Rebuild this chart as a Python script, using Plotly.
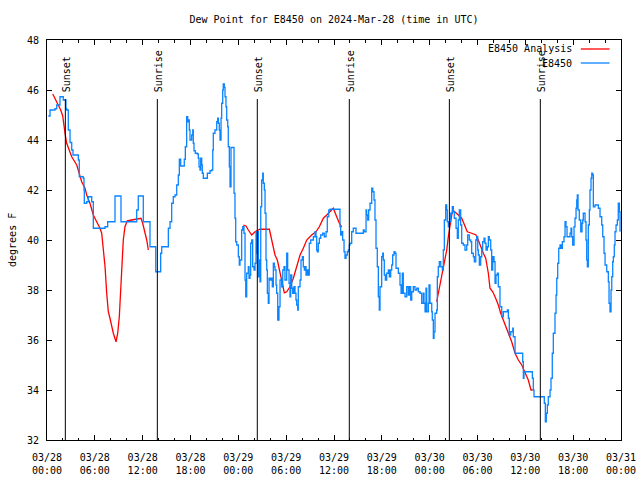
import pandas as pd
import plotly.graph_objects as go

BASE = pd.Timestamp("2024-03-28 00:00")

# Observed dew point (E8450), hours since 2024-03-28 00:00 UTC
obs_hours = [0.16, 0.38, 1.0, 1.22, 1.63, 1.97, 2.04, 2.38, 2.47, 2.67, 2.89, 3.1, 3.26, 3.64, 3.93, 4.05,
             4.55, 4.64, 4.68, 4.98, 5.18, 5.48, 5.61, 5.81, 7.28, 7.61, 8.32, 8.53, 9.03, 9.28, 11.04,
             11.25, 11.45, 11.95, 12.08, 12.83, 12.92, 13.42, 13.64, 14.09, 14.26, 14.39, 15.09, 15.22,
             15.43, 15.64, 15.84, 16.06, 16.27, 16.47, 16.6, 16.77, 17.1, 17.22, 17.35, 17.52, 17.65,
             17.72, 17.85, 17.94, 18.15, 18.28, 18.35, 18.44, 18.6, 18.85, 18.98, 19.07, 19.19, 19.28,
             19.41, 19.48, 19.61, 19.94, 20.11, 20.45, 20.66, 20.79, 20.86, 21.07, 21.29, 21.41, 21.49,
             21.61, 21.7, 21.83, 21.91, 22.04, 22.11, 22.24, 22.33, 22.45, 22.54, 22.67, 22.74, 22.87,
             22.96, 23.08, 23.37, 23.46, 23.58, 23.67, 23.8, 24.0, 24.12, 24.21, 24.42, 24.55, 24.71,
             24.84, 24.93, 25.05, 25.25, 25.34, 25.46, 25.55, 25.68, 25.8, 25.97, 26.09, 26.22, 26.31,
             26.43, 26.51, 26.63, 26.72, 26.81, 26.93, 27.06, 27.13, 27.26, 27.35, 27.47, 27.56, 27.64,
             27.76, 27.85, 27.97, 28.1, 28.26, 28.39, 28.51, 28.6, 28.73, 28.81, 28.94, 29.1, 29.23,
             29.44, 29.57, 29.73, 29.85, 30.07, 30.19, 30.36, 30.48, 30.57, 30.7, 30.82, 30.98, 31.11,
             31.23, 31.32, 31.45, 31.52, 31.74, 31.86, 32.03, 32.15, 32.28, 32.36, 32.49, 32.65, 32.78,
             32.9, 33.08, 33.2, 33.41, 33.62, 33.74, 33.83, 33.91, 34.03, 34.16, 34.33, 34.58, 34.78,
             35.0, 35.16, 35.34, 35.5, 36.67, 36.75, 36.84, 36.97, 37.09, 37.26, 37.38, 37.51, 37.67,
             37.8, 37.92, 38.01, 38.22, 38.42, 38.64, 38.76, 39.48, 39.68, 39.8, 40.02, 40.1, 40.23,
             40.35, 40.52, 40.73, 40.86, 41.02, 41.14, 41.27, 41.43, 41.56, 41.68, 41.77, 41.98, 42.11,
             42.19, 42.31, 42.44, 42.61, 42.81, 42.94, 43.11, 43.24, 43.36, 43.53, 43.65, 43.78, 43.94,
             44.07, 44.28, 44.41, 44.57, 44.69, 44.91, 45.12, 45.32, 45.45, 45.62, 45.75, 45.95, 46.16,
             46.38, 46.58, 46.79, 47.0, 47.2, 47.29, 47.42, 47.54, 47.63, 47.83, 47.92, 48.04, 48.26,
             48.33, 48.46, 48.55, 48.67, 48.88, 48.96, 49.08, 49.21, 49.39, 49.59, 49.71, 49.84, 50.01,
             50.14, 50.21, 50.34, 50.47, 50.64, 50.84, 50.97, 51.09, 51.31, 51.47, 51.59, 51.72, 51.89,
             52.02, 52.22, 52.43, 52.65, 52.77, 52.97, 53.15, 53.27, 53.48, 53.6, 53.78, 53.9, 54.03,
             54.1, 54.23, 54.4, 54.53, 54.65, 54.82, 54.94, 55.07, 55.23, 55.36, 55.48, 55.66, 55.78,
             55.91, 56.07, 56.2, 56.32, 56.49, 56.61, 56.82, 57.04, 57.24, 57.58, 57.74, 57.87, 57.99,
             58.17, 58.42, 58.49, 58.71, 59.55, 59.67, 59.75, 59.83, 60.71, 60.88, 61.0, 61.09, 62.26,
             62.38, 62.51, 62.63, 62.76, 62.88, 63.1, 63.22, 63.38, 63.51, 63.72, 63.85, 63.94, 64.06,
             64.19, 64.35, 64.48, 64.64, 64.85, 64.98, 65.1, 65.23, 65.39, 65.61, 65.73, 65.82, 65.94,
             66.11, 66.23, 66.36, 66.45, 66.52, 66.61, 66.77, 66.95, 67.11, 67.2, 67.27, 67.49, 67.61,
             67.7, 67.78, 67.9, 68.03, 68.11, 68.24, 68.33, 68.45, 68.53, 68.74, 68.96, 69.16, 69.37,
             69.58, 69.71, 69.87, 70.0, 70.21, 70.41, 70.5, 70.62, 70.75, 70.84, 70.96, 71.04, 71.16,
             71.25, 71.38, 71.54, 71.66, 71.79, 71.88]
obs_values = [44.96, 45.2, 45.25, 45.4, 45.73, 45.73, 45.6, 45.25, 45.2, 44.4, 43.9, 43.6, 43.4, 43.4, 43.2, 42.53,
              42.47, 42.0, 41.47, 41.53, 41.73, 41.73, 41.53, 40.47, 40.53, 40.73, 40.73, 41.76, 41.76, 40.73, 40.73,
              41.2, 41.76, 41.76, 40.73, 40.73, 39.73, 39.73, 38.73, 38.73, 39.47, 39.73, 39.73, 40.47,
              40.73, 41.47, 41.73, 41.8, 42.2, 42.6, 43.23, 42.96, 42.96, 43.23, 43.73, 44.93, 44.73,
              44.8, 44.4, 44.0, 44.2, 44.4, 43.87, 43.57, 43.47, 43.44, 43.27, 42.93, 42.8, 43.27,
              43.0, 42.67, 42.47, 42.47, 42.67, 42.77, 42.8, 43.6, 44.27, 44.4, 44.73, 44.87, 44.67,
              44.4, 44.0, 44.87, 45.47, 46.0, 46.24, 46.1, 45.73, 45.33, 44.8, 44.53, 43.73, 42.93,
              42.13, 43.7, 43.7, 41.87, 40.87, 39.93, 39.8, 39.33, 39.0, 39.2, 40.4, 40.53, 40.27,
              38.4, 37.73, 38.67, 38.93, 38.47, 38.6, 39.87, 40.0, 38.93, 38.8, 39.07, 40.33, 39.47,
              40.33, 38.53, 39.2, 38.33, 41.33, 42.4, 42.67, 42.27, 42.0, 41.07, 39.2, 38.8, 37.87,
              37.47, 38.47, 38.4, 38.47, 38.13, 39.07, 38.93, 38.8, 38.2, 37.87, 36.8, 37.33, 38.4,
              38.13, 38.8, 38.93, 38.4, 39.47, 38.8, 38.27, 37.73, 38.6, 38.07, 37.87, 38.13, 37.87,
              37.6, 37.4, 37.2, 38.13, 38.4, 39.2, 39.33, 38.93, 38.8, 38.93, 38.6, 38.8, 38.6,
              39.87, 40.0, 40.0, 40.13, 40.33, 40.13, 39.6, 39.53, 39.87, 40.07, 40.2, 40.27, 40.13,
              40.33, 40.93, 41.2, 41.23, 41.23, 40.53, 40.2, 40.33, 40.0, 39.53, 39.27, 39.4, 39.53,
              39.6, 39.8, 39.87, 40.33, 40.47, 40.47, 40.27, 40.27, 40.4, 40.33, 41.2, 41.0, 40.8,
              41.2, 41.47, 42.07, 41.93, 41.6, 40.8, 39.67, 38.93, 37.73, 37.2, 38.13, 39.33, 39.47,
              39.2, 38.6, 38.4, 38.67, 38.8, 38.53, 38.8, 39.0, 39.4, 39.53, 39.47, 38.87, 38.87,
              38.67, 38.2, 37.87, 38.67, 37.87, 37.73, 38.13, 37.8, 38.13, 37.6, 37.93, 38.13, 38.0,
              38.07, 37.93, 37.87, 37.47, 37.87, 37.47, 37.13, 38.07, 37.13, 37.47, 38.2, 37.47, 37.13,
              36.8, 36.07, 36.33, 37.07, 37.2, 38.53, 38.93, 39.13, 38.93, 38.8, 39.6, 40.8, 41.4,
              41.2, 40.73, 40.53, 40.73, 41.07, 41.33, 41.13, 40.87, 40.47, 40.07, 40.8, 41.2, 40.6,
              39.87, 39.8, 39.6, 39.8, 40.2, 40.0, 39.93, 39.47, 39.33, 39.13, 40.0, 40.13, 39.6,
              39.4, 39.0, 39.33, 39.6, 39.93, 40.07, 39.87, 39.6, 39.73, 40.13, 40.0, 39.6, 38.8,
              39.33, 39.13, 38.27, 38.6, 38.67, 38.13, 37.33, 36.93, 37.13, 37.13, 37.2, 36.87, 36.2,
              36.33, 36.47, 36.13, 35.47, 35.47, 35.13, 34.47, 34.73, 34.73, 34.47, 34.0, 33.73, 33.73,
              33.47, 32.73, 33.07, 33.4, 33.73, 34.0, 34.47, 35.47, 36.27, 37.07, 37.8, 38.47, 39.07,
              39.67, 39.8, 39.67, 39.93, 40.13, 40.73, 40.53, 40.13, 40.13, 40.27, 40.47, 40.13, 39.8,
              40.53, 40.87, 41.27, 41.6, 41.8, 41.2, 40.8, 40.33, 40.67, 40.8, 41.07, 40.73, 40.0,
              39.2, 38.93, 40.6, 41.2, 42.0, 42.47, 42.67, 42.6, 41.33, 41.4, 41.4, 41.27, 40.93,
              40.6, 40.13, 39.47, 39.0, 38.73, 38.33, 37.47, 37.13, 38.0, 38.53, 39.13, 39.33, 39.8,
              40.33, 40.6, 40.8, 41.47, 41.13, 40.33]

# Analysis (red), three segments separated by gaps (None)
ana_hours = [0.72, 1.0, 1.42, 1.72, 1.97, 2.13, 2.26, 2.47, 3.1, 3.73, 4.14, 4.35, 4.77, 4.98, 5.39, 5.81,
             6.23, 6.65, 6.86, 7.06, 7.28, 7.49, 7.69, 7.9, 8.12, 8.32, 8.66, 8.87, 9.07, 9.24, 9.41,
             9.57, 9.78, 10.07, 10.62, 11.25, 11.79, 12.0, 12.29, 12.51, 12.71, 18.0,
             24.62, 24.96, 25.25, 25.68, 26.09, 26.72, 27.89, 28.19, 28.6, 28.89, 29.23, 29.52, 29.77,
             30.07, 30.48, 30.9, 31.32, 31.74, 32.15, 32.58, 33.2, 33.74, 34.16, 34.66, 35.09, 35.5,
             35.91, 36.34, 36.67, 36.97, 42.0,
             48.88, 49.08, 49.3, 49.51, 49.71, 49.92, 50.14, 50.34, 50.55, 50.77, 50.89, 51.18, 51.59,
             52.02, 52.22, 52.43, 52.72, 53.27, 53.81, 54.1, 54.4, 54.73, 55.03, 55.36, 55.57, 55.91,
             56.2, 56.61, 56.91, 57.24, 57.67, 57.99, 58.29, 58.71, 59.12, 59.55, 59.96, 60.37, 60.71,
             60.93]
ana_values = [45.84, 45.67, 45.4, 45.2, 44.96, 44.67, 44.27, 43.87, 43.33, 43.0, 42.6, 42.33, 42.07, 41.8, 41.47, 41.0,
              40.73, 40.47, 40.27, 39.73, 38.93, 37.87, 37.13, 36.87, 36.53, 36.27, 35.93, 36.27, 36.93, 38.0, 38.93,
              40.0, 40.53, 40.77, 40.8, 40.84, 40.87, 40.67, 40.33, 40.0, 39.6, None,
              40.6, 40.56, 40.4, 40.2, 40.33, 40.43, 40.43, 40.0, 39.4, 39.2, 38.67, 38.2, 37.89,
              37.93, 38.13, 38.47, 38.93, 39.4, 39.67, 40.0, 40.2, 40.33, 40.53, 40.87, 41.0, 41.13,
              41.27, 40.93, 40.67, 40.53, None,
              37.53, 37.87, 38.2, 38.6, 38.93, 39.2, 39.6, 40.13, 40.67, 41.0, 41.2, 41.13, 41.0,
              40.87, 40.73, 40.53, 40.33, 40.27, 40.2, 40.0, 39.73, 39.47, 39.27, 38.67, 38.07, 37.93,
              37.73, 37.4, 37.07, 36.8, 36.47, 36.2, 35.93, 35.47, 35.2, 35.0, 34.73, 34.4, 34.0,
              34.0]

# Sun events (hours since start), label, top of marker line (degrees F)
sun_hours = [2.30, 13.84, 26.38, 37.92, 50.47, 61.88]
sun_labels = ["Sunset", "Sunrise", "Sunset", "Sunrise", "Sunset", "Sunrise"]
sun_line_top = 45.64

x_start = "2024-03-28 00:00"
x_end = "2024-03-31 00:00"
y_min, y_max, y_step = 32, 48, 2

def to_time(hours):
    return [BASE + pd.Timedelta(hours=h) for h in hours]

FONT = "DejaVu Sans Mono"
RED = "#ff0000"
BLUE = "#0a84ff"

fig = go.Figure()
fig.add_trace(go.Scatter(x=to_time(ana_hours), y=ana_values, mode="lines", name="E8450 Analysis",
                         line=dict(color=RED, width=1.3), connectgaps=False))
fig.add_trace(go.Scatter(x=to_time(obs_hours), y=obs_values, mode="lines", name="E8450",
                         line=dict(color=BLUE, width=1.3, shape="hv")))

for h, lab in zip(sun_hours, sun_labels):
    t = BASE + pd.Timedelta(hours=h)
    fig.add_shape(type="line", xref="x", yref="y", x0=t, x1=t, y0=y_min, y1=sun_line_top,
                  line=dict(color="black", width=1))
    fig.add_annotation(x=t, y=sun_line_top, xref="x", yref="y", text=lab, textangle=-90,
                       showarrow=False, xanchor="center", yanchor="bottom", yshift=5, xshift=1,
                       font=dict(family=FONT, size=10, color="black"))

# Legend drawn gnuplot-style (text left of sample)
legend_rows = [("E8450 Analysis", RED, 0.9775), ("E8450", BLUE, 0.9425)]
for txt, col, yy in legend_rows:
    fig.add_annotation(x=0.918, y=yy, xref="paper", yref="paper", text=txt, showarrow=False,
                       xanchor="right", yanchor="middle", font=dict(family=FONT, size=10, color="black"))
    fig.add_shape(type="line", xref="paper", yref="paper", x0=0.930, x1=0.980, y0=yy, y1=yy,
                  line=dict(color=col, width=1.3))

# Y-axis title
fig.add_annotation(x=-0.061, y=0.5, xref="paper", yref="paper", text="degrees F", textangle=-90,
                   showarrow=False, xanchor="center", yanchor="middle",
                   font=dict(family=FONT, size=10, color="black"))

fig.update_layout(
    width=640, height=480,
    margin=dict(l=47, r=19, t=40, b=40),
    paper_bgcolor="white", plot_bgcolor="white",
    showlegend=False,
    font=dict(family=FONT, size=10, color="black"),
    title=dict(text="Dew Point for E8450 on 2024-Mar-28 (time in UTC)", x=0.5, xref="paper",
               y=1 - 19 / 480, yanchor="middle", font=dict(family=FONT, size=10, color="black")),
)
fig.update_xaxes(
    type="date", range=[x_start, x_end], tick0=x_start, dtick=6 * 3600 * 1000,
    tickformat="%m/%d<br>%H:%M", ticks="inside", ticklen=5, tickcolor="black",
    showline=True, linecolor="black", linewidth=1, mirror="ticks", showgrid=False, zeroline=False,
    minor=dict(dtick=2 * 3600 * 1000, ticks="inside", ticklen=2.5, tickcolor="black", showgrid=False),
    tickfont=dict(family=FONT, size=10), automargin=False, ticklabelstandoff=8,
)
fig.update_yaxes(
    range=[y_min, y_max], dtick=y_step, tick0=y_min, ticks="inside", ticklen=5, tickcolor="black",
    showline=True, linecolor="black", linewidth=1, mirror="ticks", showgrid=False, zeroline=False,
    tickfont=dict(family=FONT, size=10), ticklabelstandoff=5, automargin=False,
)

fig.write_html("out.html", config={"displayModeBar": False},
               post_script="document.body.style.margin='0';")
